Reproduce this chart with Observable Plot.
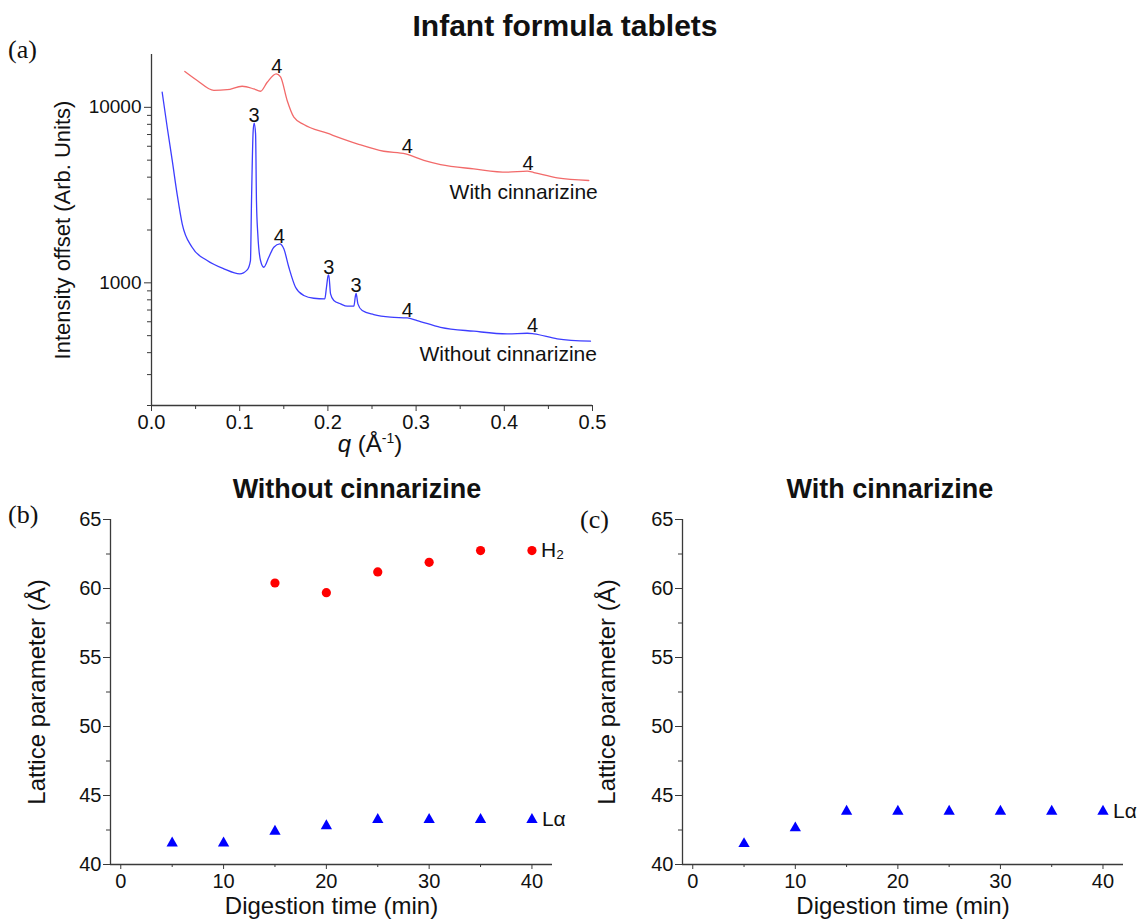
<!DOCTYPE html>
<html>
<head>
<meta charset="utf-8">
<script src="https://cdn.jsdelivr.net/npm/d3@7"></script>
<script src="https://cdn.jsdelivr.net/npm/@observablehq/plot@0.6"></script>
<style>
  body { margin: 0; background: #fff; }
  #root { position: relative; width: 1143px; height: 920px; background: #fff; font-family: Arial, "Liberation Sans", sans-serif; color: #111; overflow: hidden; }
  .abs { position: absolute; white-space: nowrap; }
  .title { font-weight: bold; font-size: 30px; }
  .ptitle { font-weight: bold; font-size: 27px; }
  .plabel { font-family: "Liberation Serif", "Times New Roman", serif; font-size: 26px; }
  .xlabel { font-size: 24px; }
</style>
</head>
<body>
<div id="root">
  <div class="abs title" style="left:0;width:1130px;text-align:center;top:9px;">Infant formula tablets</div>
  <div class="abs plabel" style="left:8px;top:35px;">(a)</div>
  <div class="abs plabel" style="left:8px;top:500px;">(b)</div>
  <div class="abs plabel" style="left:580px;top:505px;">(c)</div>
  <div class="abs ptitle" style="left:157px;width:400px;text-align:center;top:474px;">Without cinnarizine</div>
  <div class="abs ptitle" style="left:690px;width:400px;text-align:center;top:474px;">With cinnarizine</div>
  <div id="pa" class="abs" style="left:0;top:0;"></div>
  <div id="pb" class="abs" style="left:0;top:470px;"></div>
  <div id="pc" class="abs" style="left:570px;top:470px;"></div>
  <div class="abs xlabel" style="left:270px;width:200px;text-align:center;top:430px;"><i>q</i> (Å<sup style="font-size:14px;">-1</sup>)</div>
</div>
<script>
// ---------- Panel (a): SAXS profiles ----------
const blueQ = [0.0121,0.0178,0.0235,0.029,0.0348,0.046,0.0631,0.082,0.1001,0.1085,0.1122,0.1134,0.1153,0.1164,0.118,0.119,0.1205,0.1236,0.1273,0.133,0.1387,0.1455,0.150,0.1557,0.1633,0.1727,0.184,0.1965,0.1984,0.2003,0.201,0.203,0.2067,0.2143,0.2219,0.2294,0.2313,0.232,0.234,0.2389,0.252,0.271,0.2899,0.3012,0.3277,0.3654,0.4033,0.426,0.4335,0.46,0.4977];
const blueI = [12200,7700,4980,3215,2170,1596,1340,1202,1125,1186,1340,2946,7380,8130,7060,2946,1903,1340,1227,1400,1596,1667,1563,1227,944,847,817,811,944,1101,1110,865,793,759,736,736,847,870,759,695,659,637,631,610,558,530,512,516,512,480,465];
const redQ = [0.0378,0.0518,0.0707,0.0858,0.1028,0.116,0.1236,0.1312,0.1414,0.1463,0.1538,0.1614,0.1727,0.1992,0.2332,0.2634,0.288,0.3088,0.3277,0.3654,0.4033,0.426,0.4335,0.46,0.4958];
const redI = [16000,14220,12480,12600,13190,12730,12350,13900,15500,14900,10940,8790,7980,7120,6200,5620,5430,4980,4720,4460,4270,4330,4250,3960,3830];

const peakQ = [0.142,0.290,0.427,0.1164,0.145,0.201,0.232,0.290,0.432];
const peakI = [15500,5430,4330,8130,1667,1110,870,631,516];
const peakText = ["4","4","4","3","4","3","3","4","4"];

const seriesNames = ["With cinnarizine","Without cinnarizine"];
const seriesLabelQ = [0.506,0.505];
const seriesLabelI = [3275,391];

const qTicks = [0,0.1,0.2,0.3,0.4,0.5];
const qMinor = [0.05,0.15,0.25,0.35,0.45];
const iTicks = [1000,10000];
const iMinor = [200,300,400,500,600,700,800,900,2000,3000,4000,5000,6000,7000,8000,9000];

// ---------- Panels (b), (c): lattice parameters ----------
const times = [5,10,15,20,25,30,35,40];
const h2TimesB = [15,20,25,30,35,40];
const h2B = [60.4,59.7,61.2,61.9,62.75,62.75];
const laB = [41.55,41.55,42.4,42.8,43.25,43.25,43.25,43.25];
const laC = [41.5,42.65,43.85,43.85,43.85,43.85,43.85,43.85];
const tTicks = [0,10,20,30,40];
const tMinor = [5,15,25,35];
const lpTicks = [40,45,50,55,60,65];
const lpMinor = [42.5,47.5,52.5,57.5,62.5];

const axisColor = "#3a3a3a";
const font = "Arial, 'Liberation Sans', sans-serif";
const baseStyle = {fontFamily: font, color: "#111", background: "transparent", overflow: "visible"};

const blueData = blueQ.map((q,i) => ({q, I: blueI[i]}));
const redData = redQ.map((q,i) => ({q, I: redI[i]}));
const peaks = peakQ.map((q,i) => ({q, I: peakI[i], t: peakText[i]}));
const seriesLabels = seriesNames.map((s,i) => ({q: seriesLabelQ[i], I: seriesLabelI[i], t: s}));

const pa = Plot.plot({
  width: 620, height: 470,
  marginLeft: 151, marginRight: 28, marginTop: 54, marginBottom: 65,
  style: baseStyle,
  x: {domain: [0, 0.5], axis: null},
  y: {type: "log", domain: [200, 20000], axis: null},
  marks: [
    Plot.axisX(qTicks, {tickSize: 6, tickPadding: 3, fontSize: 20, stroke: axisColor, tickFormat: d3.format(".1f"), label: null}),
    Plot.axisX(qMinor, {tickSize: 4, text: null, stroke: axisColor, label: null}),
    Plot.axisY(iTicks, {tickSize: 7, tickPadding: 3, fontSize: 19, stroke: axisColor, tickFormat: d3.format("d"), label: null}),
    Plot.axisY(iMinor, {tickSize: 4, text: null, stroke: axisColor, label: null}),
    Plot.ruleX([0], {stroke: axisColor, strokeWidth: 1.3}),
    Plot.ruleY([200], {stroke: axisColor, strokeWidth: 1.3}),
    Plot.line(redData, {x: "q", y: "I", stroke: "#f26a6a", strokeWidth: 1.3, curve: "monotone-x"}),
    Plot.line(blueData, {x: "q", y: "I", stroke: "#3d3dff", strokeWidth: 1.3, curve: "monotone-x"}),
    Plot.text(peaks, {x: "q", y: "I", text: "t", fontSize: 20, fill: "#111", lineAnchor: "bottom", dy: -1}),
    Plot.text(seriesLabels, {x: "q", y: "I", text: "t", fontSize: 21, fill: "#111", textAnchor: "end"}),
    Plot.text(["Intensity offset (Arb. Units)"], {frameAnchor: "left", textAnchor: "middle", dx: -89, dy: 0, rotate: -90, fontSize: 22, fill: "#111"})
  ]
});
document.getElementById("pa").appendChild(pa);

function latticePlot(opts) {
  const marks = [
    Plot.axisX(tTicks, {tickSize: 5, tickPadding: 4, fontSize: 20, stroke: axisColor, label: null}),
    Plot.axisX(tMinor, {tickSize: 3, text: null, stroke: axisColor, label: null}),
    Plot.axisY(lpTicks, {tickSize: 7, tickPadding: 2, fontSize: 20, stroke: axisColor, label: null}),
    Plot.axisY(lpMinor, {tickSize: 4, text: null, stroke: axisColor, label: null}),
    Plot.ruleX([-1], {stroke: axisColor, strokeWidth: 1.3}),
    Plot.ruleY([40], {stroke: axisColor, strokeWidth: 1.3}),
    Plot.text(["Lattice parameter (Å)"], {frameAnchor: "left", textAnchor: "middle", dx: -opts.ylabOff, dy: 0, rotate: -90, fontSize: 24, fill: "#111"}),
    Plot.text(["Digestion time (min)"], {frameAnchor: "bottom", textAnchor: "middle", dy: 42, fontSize: 24, fill: "#111", lineAnchor: "middle"})
  ];
  if (opts.h2) {
    marks.push(Plot.dot(opts.h2.x.map((x,i) => ({x, y: opts.h2.y[i]})), {x: "x", y: "y", r: 4.6, fill: "#ff0000", stroke: "none"}));
    marks.push(Plot.text([{x: 40, y: opts.h2.y[opts.h2.y.length-1], t: "H₂"}], {x: "x", y: "y", text: "t", dx: 9, textAnchor: "start", fontSize: 21, fill: "#111"}));
  }
  marks.push(Plot.dot(times.map((x,i) => ({x, y: opts.la[i]})), {x: "x", y: "y", symbol: "triangle", r: 4.2, fill: "#0000ff", stroke: "none"}));
  marks.push(Plot.text([{x: 40, y: opts.la[opts.la.length-1], t: "Lα"}], {x: "x", y: "y", text: "t", dx: 10, textAnchor: "start", fontSize: 21, fill: "#111"}));
  return Plot.plot({
    width: opts.width, height: 450,
    marginLeft: opts.marginLeft, marginRight: opts.marginRight, marginTop: 49, marginBottom: 56,
    style: baseStyle,
    x: {domain: [-1, 42], axis: null},
    y: {domain: [40, 65], axis: null},
    marks
  });
}

document.getElementById("pb").appendChild(latticePlot({width: 580, marginLeft: 110, marginRight: 28, ylabOff: 73, h2: {x: h2TimesB, y: h2B}, la: laB}));
document.getElementById("pc").appendChild(latticePlot({width: 573, marginLeft: 112, marginRight: 20, ylabOff: 75, la: laC}));
</script>
</body>
</html>
